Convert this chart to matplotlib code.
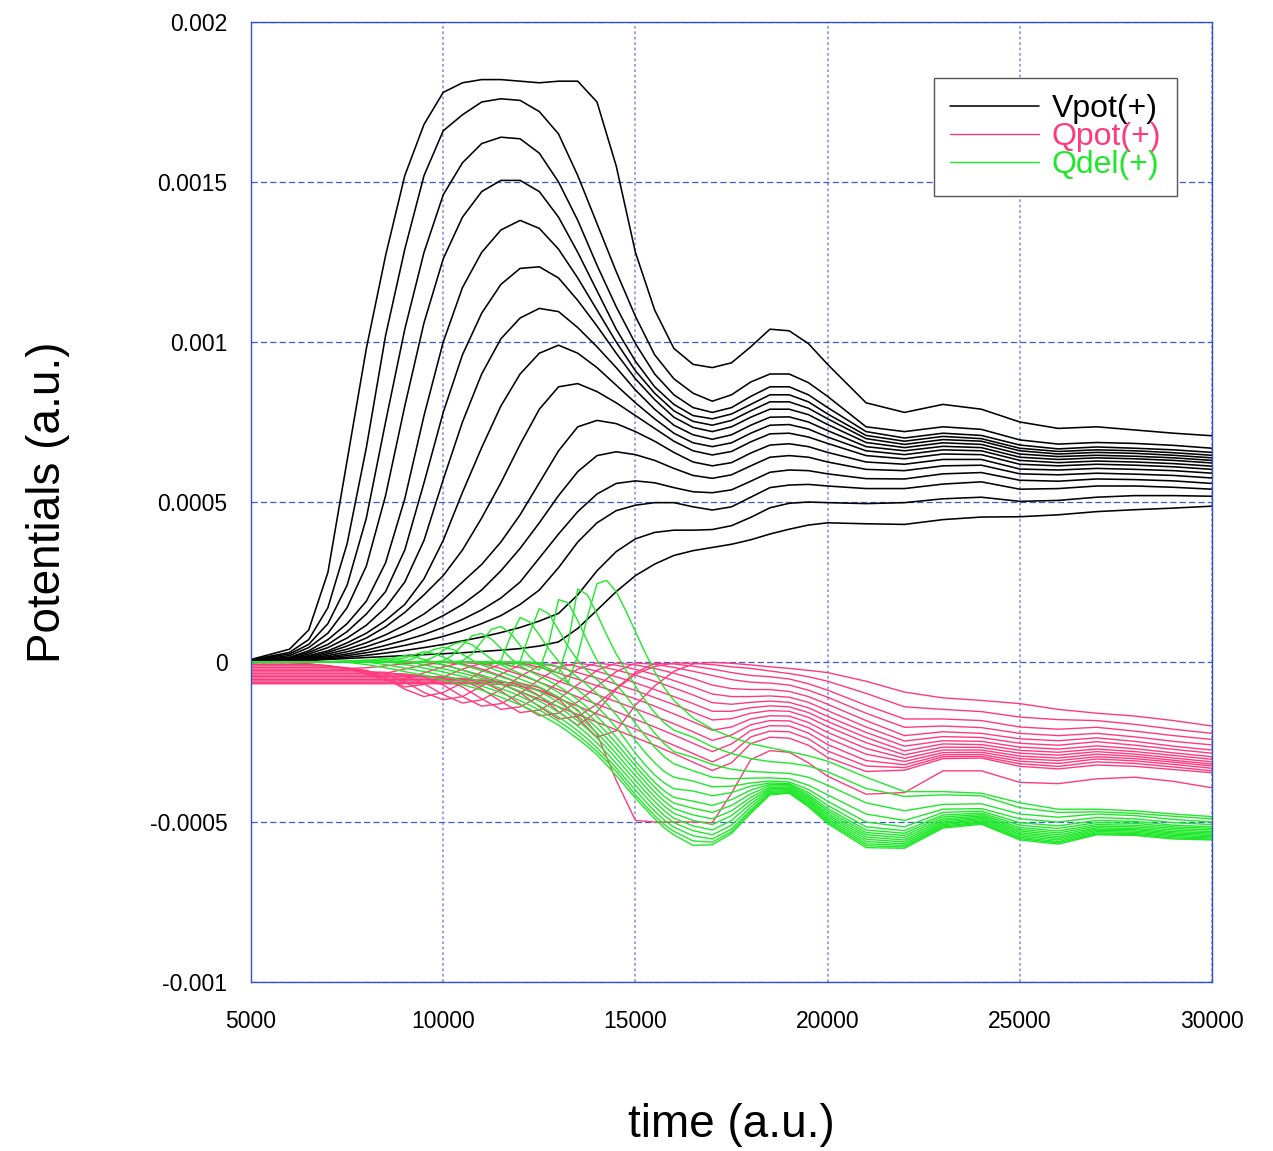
import numpy as np
import matplotlib
matplotlib.use("Agg")
import matplotlib.pyplot as plt

plt.rcParams['font.family'] = ['Liberation Sans', 'DejaVu Sans']

# Grade de tempo (a.u.) para Vpot e Qpot
tempo = [5000, 6000, 6500, 7000, 7500, 8000, 8500, 9000, 9500, 10000,
         10500, 11000, 11500, 12000, 12500, 13000, 13500, 14000, 14500, 15000,
         15500, 16000, 16500, 17000, 17500, 18000, 18500, 19000, 19500, 20000,
         21000, 22000, 23000, 24000, 25000, 26000, 27000, 28000, 29000, 30000]

# Grade mais fina para Qdel (picos estreitos)
tempo_qdel = [5000, 6000, 7000, 7500, 8000, 8500, 9000, 9250, 9500, 9750,
              10000, 10250, 10500, 10750, 11000, 11250, 11500, 11750, 12000, 12250,
              12500, 12750, 13000, 13250, 13500, 13750, 14000, 14250, 14500, 14750,
              15000, 15250, 15500, 15750, 16000,
              16500, 17000, 17500, 18000, 18500, 19000, 19500, 20000,
              21000, 22000, 23000, 24000, 25000, 26000, 27000, 28000, 29000, 30000]

# Valores, em unidades de 1e-5 a.u.
vpot_00 = [0.8, 4, 10, 28, 63, 98, 127, 152, 168, 178,
           181, 182, 182, 181.5, 181, 181.5, 181.5, 175, 155, 128,
           110, 98, 93, 92, 93.5, 98.5, 104, 103.5, 99.5, 93,
           81, 78, 80.5, 79, 75, 73, 73.5, 72.5, 71.5, 70.7]
vpot_01 = [0.7, 3, 7, 17, 37, 67, 102, 129, 152, 166,
           171, 175, 176, 175.5, 172, 165, 152, 137, 122, 108,
           96, 88.5, 84, 81.5, 83.5, 87.5, 90, 90, 87.3, 83,
           73.5, 72, 73.5, 72.7, 69.4, 68.1, 68.6, 68.3, 67.7, 66.8]
vpot_02 = [0.6, 2.5, 5.5, 12, 24, 45, 75, 104, 128, 146,
           156, 162, 164, 163.5, 159, 150, 138, 124, 111, 99.5,
           90, 83.5, 79.5, 78, 79.5, 83, 86, 86, 83.5, 79.5,
           72, 70, 71.5, 70.8, 67.8, 66.6, 67.2, 66.8, 66.3, 65.5]
vpot_03 = [0.5, 2, 4.5, 9, 17, 30, 52, 80, 106, 126,
           139, 147, 150.5, 150.5, 147, 139, 128, 116, 104, 94,
           86, 80.5, 77, 76, 77.5, 80.5, 83.5, 83.5, 81.3, 77.5,
           70.8, 69, 70.5, 69.8, 66.8, 65.8, 66.3, 66, 65.4, 64.6]
vpot_04 = [0.5, 1.5, 3.5, 7, 12, 19, 31, 51, 77, 100,
           117, 128, 135, 138, 135.5, 129, 120, 110, 100, 91,
           84, 78.5, 75.2, 74, 75.5, 78.5, 81.3, 81.3, 79.3, 76,
           69.8, 68, 69.5, 69, 66, 65, 65.5, 65.2, 64.6, 63.8]
vpot_05 = [0.4, 1.3, 3, 5.5, 9.5, 15, 22, 35, 56, 78,
           96, 109, 118, 123, 123.5, 120, 113, 105, 96.5, 88.5,
           82, 76.5, 73.3, 72, 73.5, 76.5, 79, 79, 77.3, 74.2,
           68.6, 67, 68.5, 68, 65, 64.2, 64.6, 64.3, 63.8, 63]
vpot_06 = [0.4, 1.1, 2.5, 4.5, 7.5, 11.5, 17, 25, 38, 57,
           75, 90, 101, 107.5, 110.5, 109.5, 104.5, 98.5, 92, 85,
           79, 74, 71, 69.6, 71, 74, 76.5, 76.6, 75, 72.3,
           67.3, 66, 67.4, 67, 64, 63.3, 63.8, 63.5, 63, 62.2]
vpot_07 = [0.3, 1, 2, 3.5, 6, 9, 13, 18, 26, 38,
           53, 67, 80, 90, 96.5, 99, 96.5, 92, 86.5, 81,
           76, 71.5, 68.5, 67.3, 68.5, 71.5, 74, 74.2, 72.8, 70.3,
           66, 64.8, 66.3, 66, 63, 62.3, 62.8, 62.5, 62, 61.2]
vpot_08 = [0.3, 0.9, 1.7, 3, 5, 7.5, 11, 15.5, 21, 27,
           35, 45, 56, 68, 79, 86, 87, 84.5, 81, 77,
           73, 69, 66, 64.7, 65.8, 68.8, 71.3, 71.5, 70.3, 68.3,
           64.5, 63.5, 65, 64.8, 61.8, 61.3, 61.8, 61.5, 61, 60.2]
vpot_09 = [0.3, 0.8, 1.4, 2.5, 4, 6, 8.5, 11.5, 15, 19.5,
           25, 30.5, 37.5, 46, 56, 66, 73.5, 75.5, 74.5, 72,
           69, 65.5, 62.5, 61.3, 62.3, 65.3, 67.8, 68.2, 67.3, 65.5,
           62.5, 61.8, 63.3, 63.3, 60.3, 60, 60.5, 60.2, 59.8, 59]
vpot_10 = [0.2, 0.7, 1.2, 2, 3.2, 4.8, 6.8, 9, 11.5, 14.5,
           18, 22.5, 28.5, 35.5, 43.5, 52, 59.5, 64.5, 65.7, 64.8,
           63, 60.5, 58.3, 57.4, 58.5, 61.3, 64, 64.5, 64, 62.5,
           60.2, 59.8, 61.3, 61.5, 58.8, 58.5, 59, 58.7, 58.3, 57.5]
vpot_11 = [0.2, 0.6, 1, 1.6, 2.5, 3.7, 5.2, 6.8, 8.6, 10.8,
           13.3, 16.3, 20, 25, 32.5, 40, 47, 52.5, 55.8, 56.6,
           56, 54.5, 53.2, 52.9, 53.8, 56.5, 59.3, 60, 59.8, 58.8,
           57.3, 57.2, 58.8, 59.2, 56.8, 56.5, 57.2, 57, 56.6, 55.8]
vpot_12 = [0.2, 0.5, 0.8, 1.3, 2, 2.9, 4, 5.2, 6.5, 8,
           9.8, 12, 14.5, 18, 22.5, 29.5, 37.5, 43.5, 47.3, 49,
           49.8, 49.8, 48.5, 47.5, 48.5, 51.5, 54.5, 55.3, 55.5, 55,
           54.2, 54.2, 55.6, 56.3, 54, 54.2, 55, 55, 54.6, 54]
vpot_13 = [0.1, 0.4, 0.6, 1, 1.5, 2.1, 2.8, 3.6, 4.5, 5.5,
           6.6, 7.8, 9.2, 10.8, 12.8, 15.2, 21, 28.5, 34.5, 38.5,
           40.5, 41.2, 41.2, 41.4, 42.6, 45.2, 48.2, 49.6, 50, 49.8,
           49.5, 49.8, 51, 51.5, 50.2, 50.5, 51.5, 52, 52, 51.8]
vpot_14 = [0.1, 0.3, 0.5, 0.8, 1.1, 1.4, 1.7, 2, 2.3, 2.6,
           2.9, 3.3, 3.7, 4.2, 5, 6.3, 10.5, 16.2, 22, 27,
           30.6, 33.3, 34.8, 35.8, 36.8, 38.2, 40, 41.5, 42.8, 43.5,
           43.2, 43, 44.5, 45.3, 45.4, 46, 47, 47.6, 48.1, 48.7]

qpot_00 = [-0.3, -0.3, -0.5, -1.2, -2.0, -1.8, -1.2, -0.5, -0.1, -0.8,
           -2.5, -4.5, -6.8, -9.2, -11.6, -14.0, -16.4, -18.8, -21.2, -23.6,
           -26.0, -28.6, -31.3, -33.9, -31.5, -25.5, -23.5, -23.8, -26.0, -29.8,
           -34.2, -33.8, -30.2, -30.0, -32.6, -33.4, -32.2, -32.6, -33.6, -34.6]
qpot_01 = [-0.8, -0.8, -0.8, -1.1, -2, -3.8, -3.5, -2.2, -0.9, -0.1,
           -0.6, -2.2, -4.3, -6.6, -9, -11.4, -13.8, -16.2, -18.6, -21,
           -23.5, -26, -28.6, -31.2, -28.5, -23.4, -21.6, -21.8, -24, -27.8,
           -32.5, -33, -29.6, -29.5, -31.8, -32.6, -31.2, -31.7, -32.8, -34]
qpot_02 = [-1.2, -1.2, -1.2, -1.3, -1.8, -3.6, -5.8, -5.2, -3.4, -1.5,
           -0.2, -0.5, -2, -4, -6.3, -8.6, -10.9, -13.2, -15.5, -17.9,
           -20.3, -22.8, -25.4, -28, -25.6, -21.4, -19.9, -20, -22.2, -25.8,
           -30.8, -32.1, -29, -28.9, -31, -31.7, -30.3, -30.9, -32, -33.2]
qpot_03 = [-1.7, -1.7, -1.7, -1.7, -1.9, -2.6, -5, -7.8, -7, -4.7,
           -2.2, -0.4, -0.4, -1.8, -3.8, -6, -8.1, -10.2, -12.4, -14.6,
           -16.9, -19.3, -21.8, -24.5, -22.8, -19.6, -18.3, -18.4, -20.5, -23.8,
           -28.8, -31.1, -28.3, -28.2, -30.2, -30.8, -29.6, -30.2, -31.3, -32.5]
qpot_04 = [-2.2, -2.2, -2.2, -2.2, -2.3, -3, -5, -8.5, -10.8, -9.5,
           -6.5, -3, -0.6, -0.3, -1.6, -3.5, -5.4, -7.4, -9.4, -11.5,
           -13.8, -16.2, -18.7, -21.3, -20.3, -17.8, -16.8, -16.9, -18.9, -22,
           -27, -30.1, -27.5, -27.5, -29.4, -30, -28.8, -29.5, -30.7, -31.9]
qpot_05 = [-2.6, -2.6, -2.6, -2.6, -2.6, -2.8, -3.8, -6.2, -9.5, -11.8,
           -10.8, -7.5, -3.8, -0.9, -0.3, -1.6, -3.3, -5, -6.9, -8.9,
           -11.1, -13.3, -15.7, -18.1, -17.7, -16, -15.2, -15.4, -17.3, -20.2,
           -25.2, -29, -26.6, -26.7, -28.5, -29.1, -28, -28.8, -30, -31.2]
qpot_06 = [-3.1, -3.1, -3.1, -3.1, -3.1, -3.1, -3.2, -4.2, -6.8, -10.2,
           -12.8, -11.8, -8.6, -4.5, -1.2, -0.3, -1.4, -2.9, -4.6, -6.5,
           -8.6, -10.8, -13, -15.4, -15.4, -14.3, -13.7, -14, -15.8, -18.6,
           -23.6, -27.8, -25.6, -25.8, -27.6, -28.2, -27.2, -28, -29.2, -30.4]
qpot_07 = [-3.6, -3.6, -3.6, -3.6, -3.6, -3.6, -3.6, -3.7, -4.6, -7.2,
           -10.8, -13.8, -13, -9.8, -5.5, -1.7, -0.3, -1.2, -2.5, -4.1,
           -6, -8.1, -10.3, -12.7, -13.2, -12.6, -12.2, -12.6, -14.3, -17,
           -22, -26.3, -24.6, -24.8, -26.6, -27.2, -26.2, -27.1, -28.4, -29.6]
qpot_08 = [-4.1, -4.1, -4.1, -4.1, -4.1, -4.1, -4.1, -4.1, -4.2, -5.1,
           -7.8, -11.5, -14.8, -14, -10.8, -6.3, -2.2, -0.3, -1, -2.3,
           -3.9, -5.8, -7.8, -10, -10.8, -10.8, -10.6, -11, -12.6, -15.2,
           -20.3, -24.7, -23.3, -23.6, -25.4, -26, -24.9, -26, -27.3, -28.5]
qpot_09 = [-4.5, -4.5, -4.5, -4.5, -4.5, -4.5, -4.5, -4.5, -4.5, -4.6,
           -5.6, -8.4, -12.3, -15.8, -15, -11.6, -7, -2.6, -0.3, -0.9,
           -2, -3.5, -5.2, -7.2, -8.3, -8.6, -8.6, -9.2, -10.8, -13.2,
           -18.3, -23, -21.8, -22.3, -24, -24.6, -23.7, -24.8, -26.3, -27.5]
qpot_10 = [-5, -5, -5, -5, -5, -5, -5, -5, -5, -5,
           -5.1, -6.1, -9, -13.2, -16.8, -16, -12.4, -7.6, -3, -0.3,
           -0.7, -1.7, -2.9, -4.2, -5.5, -6.3, -6.6, -7.2, -8.8, -11,
           -16, -20.4, -20, -20.5, -22.3, -23, -22.3, -23.4, -24.8, -25.9]
qpot_11 = [-5.5, -5.5, -5.5, -5.5, -5.5, -5.5, -5.5, -5.5, -5.5, -5.5,
           -5.5, -5.6, -6.6, -9.6, -14, -17.8, -17, -13.2, -8.2, -3.3,
           -0.4, -0.6, -1.3, -2.2, -3.3, -4.2, -4.6, -5.3, -6.8, -8.8,
           -13.5, -17.8, -17.8, -18.3, -20.3, -21, -20.4, -21.6, -23, -24.2]
qpot_12 = [-5.9, -5.9, -5.9, -5.9, -5.9, -5.9, -5.9, -5.9, -5.9, -5.9,
           -5.9, -5.9, -6, -7.2, -10.5, -15.5, -19.8, -15.5, -8.5, -3.8,
           -1.4, -0.3, -0.4, -0.8, -1.5, -2, -2.8, -3.6, -4.6, -6,
           -9.8, -14, -14.8, -15.5, -17.2, -18, -18.3, -19.5, -21, -22.3]
qpot_13 = [-6.4, -6.4, -6.4, -6.4, -6.4, -6.4, -6.4, -6.4, -6.4, -6.4,
           -6.4, -6.4, -6.4, -6.6, -8, -11.5, -17.5, -23.5, -21.5, -13.5,
           -7.5, -2.9, -0.6, -0.1, -0.4, -0.9, -1.5, -2, -2.6, -3.3,
           -6, -9.4, -11.2, -12, -13, -14.8, -16, -16.9, -18.3, -20]
qpot_14 = [-6.8, -6.8, -6.8, -6.8, -6.8, -6.8, -6.8, -6.8, -6.8, -6.8,
           -6.8, -6.8, -7, -7.6, -8.8, -11, -15, -22.5, -37, -49.5,
           -50, -50, -50, -50.2, -41, -30.5, -27.7, -28.2, -31.5, -35.7,
           -41.3, -40.8, -34, -34, -37.6, -38, -36.5, -36, -37.3, -39.3]

qdel_00 = [-0.2, 0, 0.1, -0.1, -0.8, -1.8, -3, -3.6, -4.2, -4.9,
           -5.6, -6.3, -7.1, -7.9, -8.8, -9.9, -11, -12.2, -13.4, -14.8,
           -16.3, -18, -19.7, -21.8, -24, -26.4, -29, -32.2, -35.5, -39,
           -42.5, -45.8, -49, -51.8, -54,
           -57.3, -57.1, -53.6, -47.3, -41.5, -41, -45.2, -50.5,
           -58, -58.2, -51.9, -50.7, -55.6, -56.9, -54, -54.2, -55.3, -55.6]
qdel_01 = [-0.1, 0, 0.15, 0.3, 0, -0.8, -1.9, -2.4, -3, -3.6,
           -4.3, -5, -5.8, -6.6, -7.5, -8.5, -9.6, -10.8, -12.1, -13.5,
           -15, -16.7, -18.5, -20.5, -22.8, -25.3, -28, -31, -34.2, -37.8,
           -41.5, -44.8, -48, -50.8, -52.9,
           -55.9, -56.3, -53, -46.8, -41.2, -40.8, -44.8, -50,
           -57.4, -57.8, -51.5, -50.4, -55.2, -56.5, -53.7, -53.9, -55, -55.3]
qdel_02 = [-0.1, 0, 0.1, 0.35, 0.6, 0.2, -0.8, -1.3, -1.9, -2.5,
           -3.1, -3.8, -4.5, -5.3, -6.2, -7.2, -8.3, -9.4, -10.7, -12.1,
           -13.7, -15.4, -17.2, -19.2, -21.5, -24, -26.8, -29.9, -33.1, -36.6,
           -40, -43.4, -46.6, -49.4, -51.6,
           -54.3, -55.3, -52.2, -46.2, -40.8, -40.5, -44.5, -49.5,
           -56.8, -57.3, -51.2, -50.1, -54.8, -56.1, -53.4, -53.6, -54.6, -55]
qdel_03 = [-0.1, 0, 0, 0.1, 0.5, 1.2, 0.4, -0.3, -0.9, -1.5,
           -2.1, -2.8, -3.5, -4.3, -5.1, -6, -7, -8.1, -9.3, -10.7,
           -12.2, -13.9, -15.7, -17.7, -20, -22.5, -25.3, -28.4, -31.7, -35.1,
           -38.5, -41.9, -45.1, -48, -50.2,
           -52.7, -54, -51, -45.3, -40.4, -40.2, -44, -49,
           -56.1, -56.8, -50.8, -49.7, -54.3, -55.6, -53, -53.2, -54.2, -54.6]
qdel_04 = [-0.1, 0, 0, 0, 0.1, 0.8, 2, 1.6, 0.8, -0.1,
           -0.9, -1.7, -2.5, -3.3, -4.1, -5, -5.9, -6.9, -8, -9.3,
           -10.7, -12.3, -14.1, -16.1, -18.4, -20.9, -23.7, -26.8, -30.1, -33.6,
           -37, -40.4, -43.6, -46.5, -48.8,
           -51.2, -52.5, -49.5, -44.3, -40, -39.9, -43.5, -48.4,
           -55.4, -56.2, -50.4, -49.3, -53.8, -55.1, -52.6, -52.8, -53.8, -54.2]
qdel_05 = [-0.1, 0, 0, 0, 0, 0.2, 1.3, 2.3, 3.2, 2.7,
           1.5, 0.2, -0.9, -1.8, -2.7, -3.6, -4.6, -5.6, -6.7, -7.9,
           -9.2, -10.8, -12.6, -14.6, -16.9, -19.4, -22.2, -25.3, -28.6, -32.1,
           -35.5, -38.9, -42.1, -45, -47.3,
           -49.5, -50.8, -48, -43.3, -39.6, -39.5, -43, -47.8,
           -54.7, -55.6, -50, -48.9, -53.3, -54.6, -52.2, -52.4, -53.4, -53.8]
qdel_06 = [-0.1, 0, 0, 0, 0, 0, 0.3, 1.2, 2.6, 3.9,
           4.6, 3.9, 2.4, 0.6, -0.9, -2, -3.1, -4.2, -5.3, -6.5,
           -7.8, -9.3, -11, -13, -15.3, -17.8, -20.6, -23.7, -27, -30.5,
           -34, -37.4, -40.6, -43.5, -45.8,
           -47.8, -49, -46.5, -42.3, -39.2, -39.1, -42.5, -47.2,
           -54, -54.9, -49.5, -48.5, -52.8, -54, -51.8, -52, -53, -53.4]
qdel_07 = [-0.1, 0, 0, 0, 0, 0, 0, 0, 0.3, 1.5,
           3.6, 5.5, 6.4, 5.4, 3.2, 0.9, -0.9, -2.3, -3.6, -4.9,
           -6.3, -7.8, -9.5, -11.4, -13.6, -16.1, -18.9, -22, -25.4, -28.9,
           -32.5, -35.9, -39.1, -42, -44.1,
           -45.7, -47, -44.8, -41.2, -38.7, -38.7, -42, -46.5,
           -53.3, -54.2, -49, -48.1, -52.3, -53.4, -51.3, -51.5, -52.5, -53]
qdel_08 = [-0.1, 0, 0, 0, 0, 0, 0, 0, 0, 0,
           0.4, 2.2, 5.3, 8.2, 8.9, 7.2, 4.3, 1.2, -1.2, -2.9,
           -4.4, -5.9, -7.6, -9.5, -11.7, -14.2, -17, -20.1, -23.5, -27.1,
           -31, -34.4, -37.6, -40.3, -42.3,
           -43.5, -44.8, -43, -40, -38.2, -38.3, -41.5, -45.8,
           -52.5, -53.5, -48.4, -47.7, -51.7, -52.8, -50.8, -51, -52, -52.5]
qdel_09 = [-0.1, 0, 0, 0, 0, 0, 0, 0, 0, 0,
           0, 0, 0.4, 2.5, 6.4, 10.2, 11.1, 9, 5.2, 1.6,
           -1, -2.9, -4.7, -6.6, -8.7, -11.1, -13.9, -17, -20.5, -24.4,
           -28.5, -32.1, -35.3, -37.8, -39.6,
           -40.3, -41.8, -40.8, -38.8, -37.8, -38, -40.8, -44.8,
           -51.5, -52.7, -47.8, -47.2, -51, -52, -50.2, -50.4, -51.5, -52]
qdel_10 = [-0.1, 0, 0, 0, 0, 0, 0, 0, 0, 0,
           0, 0, 0, -0.1, -0.2, -0.8, 0.5, 8, 13.9, 12.5,
           8.5, 4, 0.2, -2.5, -4.8, -7.2, -9.9, -13, -16.5, -20.3,
           -24.5, -28.2, -31.5, -34.2, -36,
           -37.2, -39, -38.8, -37.8, -37.2, -37.5, -39.8, -43.5,
           -50, -51.5, -47, -46.6, -50.2, -51.2, -49.5, -49.8, -51, -51.5]
qdel_11 = [-0.1, 0, 0, 0, 0, 0, 0, 0, 0, 0,
           0, 0, 0, 0, 0, -0.1, -0.3, -1.3, 0.2, 9,
           16.7, 15, 10, 4.8, 0.5, -2.8, -5.5, -8.3, -11.4, -15,
           -19.2, -23, -26.6, -29.6, -31.8,
           -34, -36, -36.5, -36.3, -36.2, -36.5, -38.5, -41.5,
           -47.5, -49.5, -46, -45.8, -49, -50, -48.6, -49, -50.2, -50.8]
qdel_12 = [-0.1, 0, 0, 0, 0, 0, 0, 0, 0, 0,
           0, 0, 0, 0, 0, 0, 0, -0.2, -0.5, -1.5,
           -2.5, 6, 19.5, 18.5, 13, 6.5, 0.5, -3.5, -7, -10.5,
           -14.5, -18.5, -22.2, -25.5, -28,
           -29.8, -32, -33.5, -34.2, -34.5, -34.8, -36, -38.5,
           -44, -46.5, -44.5, -44.3, -47.5, -48.5, -47.5, -48, -49.2, -50]
qdel_13 = [-0.1, 0, 0, 0, 0, 0, 0, 0, 0, 0,
           0, 0, 0, 0, 0, 0, 0, 0, 0, -0.3,
           -0.8, -2, -3.5, 6, 22.8, 21, 15, 8.5, 2.5, -2.5,
           -7.5, -12, -15.8, -19, -21.3,
           -23.5, -26.5, -28.6, -30.2, -31.1, -31.6, -32.5, -34.3,
           -39.5, -42, -41.5, -41.8, -45.5, -47, -46.8, -47.3, -48.2, -49]
qdel_14 = [-0.1, 0, 0, 0, 0, 0, 0, 0, 0, 0,
           0, 0, 0, 0, 0, 0, 0, 0, 0, 0,
           -0.3, -0.8, -1.5, -6.5, 2, 14, 24.5, 25.5, 22, 16,
           9.5, 3, -3, -8, -12,
           -17.5, -21, -23.5, -25.5, -26.8, -28, -29.3, -31,
           -36, -40.5, -40.5, -41, -44, -46, -46, -46.5, -47.5, -48.3]

vpot = [vpot_00, vpot_01, vpot_02, vpot_03, vpot_04, vpot_05, vpot_06, vpot_07,
        vpot_08, vpot_09, vpot_10, vpot_11, vpot_12, vpot_13, vpot_14]
qpot = [qpot_00, qpot_01, qpot_02, qpot_03, qpot_04, qpot_05, qpot_06, qpot_07,
        qpot_08, qpot_09, qpot_10, qpot_11, qpot_12, qpot_13, qpot_14]
qdel = [qdel_00, qdel_01, qdel_02, qdel_03, qdel_04, qdel_05, qdel_06, qdel_07,
        qdel_08, qdel_09, qdel_10, qdel_11, qdel_12, qdel_13, qdel_14]

escala = 1e-5  # unidade dos valores acima

cor_v = '#000000'
cor_q = '#ff3a7c'
cor_d = '#1fe82a'

fig = plt.figure(figsize=(12.73, 11.51), dpi=100)
ax = fig.add_axes([0.1972, 0.1468, 0.7549, 0.8341])

# Curvas
estilo = dict(solid_joinstyle='round', solid_capstyle='round')
linhas_v = [ax.plot(tempo, np.array(v) * escala, color=cor_v, lw=1.15, **estilo)[0] for v in vpot]
linhas_q = [ax.plot(tempo, np.array(v) * escala, color=cor_q, lw=1.0, **estilo)[0] for v in qpot]
linhas_d = [ax.plot(tempo_qdel, np.array(v) * escala, color=cor_d, lw=1.0, **estilo)[0] for v in qdel]

# Eixos
ax.set_xlim(5000, 30000)
ax.set_ylim(-0.001, 0.002)
ax.set_xticks([5000, 10000, 15000, 20000, 25000, 30000])
ax.set_xticklabels(['5000', '10000', '15000', '20000', '25000', '30000'])
ax.set_yticks([-0.001, -0.0005, 0, 0.0005, 0.001, 0.0015, 0.002])
ax.set_yticklabels(['-0.001', '-0.0005', '0', '0.0005', '0.001', '0.0015', '0.002'])
ax.tick_params(axis='both', length=0, labelsize=16.5)
ax.tick_params(axis='x', pad=20)
ax.tick_params(axis='y', pad=17)

ax.set_axisbelow(True)
ax.yaxis.grid(True, color='#3b5bdb', lw=0.9, linestyle=(0, (5, 2.5)))
ax.xaxis.grid(True, color='#8c9ff0', lw=1.3, linestyle=(0, (1.5, 1.5)))
for lado in ax.spines.values():
    lado.set_color('#3050d0')
    lado.set_linewidth(1.0)

ax.set_xlabel('time (a.u.)', fontsize=33)
ax.set_ylabel('Potentials (a.u.)', fontsize=33)
ax.xaxis.set_label_coords(0.5, -0.126)
ax.yaxis.set_label_coords(-0.188, 0.5)

# Legenda
leg = ax.legend([linhas_v[0], linhas_q[0], linhas_d[0]], ['Vpot(+)', 'Qpot(+)', 'Qdel(+)'],
                loc='upper right', bbox_to_anchor=(0.9636, 0.9417), fontsize=23,
                frameon=True, fancybox=False, framealpha=1, edgecolor='#555555',
                handlelength=2.8, handletextpad=0.38, labelspacing=-0.06,
                borderpad=0.5, borderaxespad=0)
leg.get_frame().set_linewidth(1.0)
for texto, cor in zip(leg.get_texts(), [cor_v, cor_q, cor_d]):
    texto.set_color(cor)

fig.savefig('out.png', dpi=100)
